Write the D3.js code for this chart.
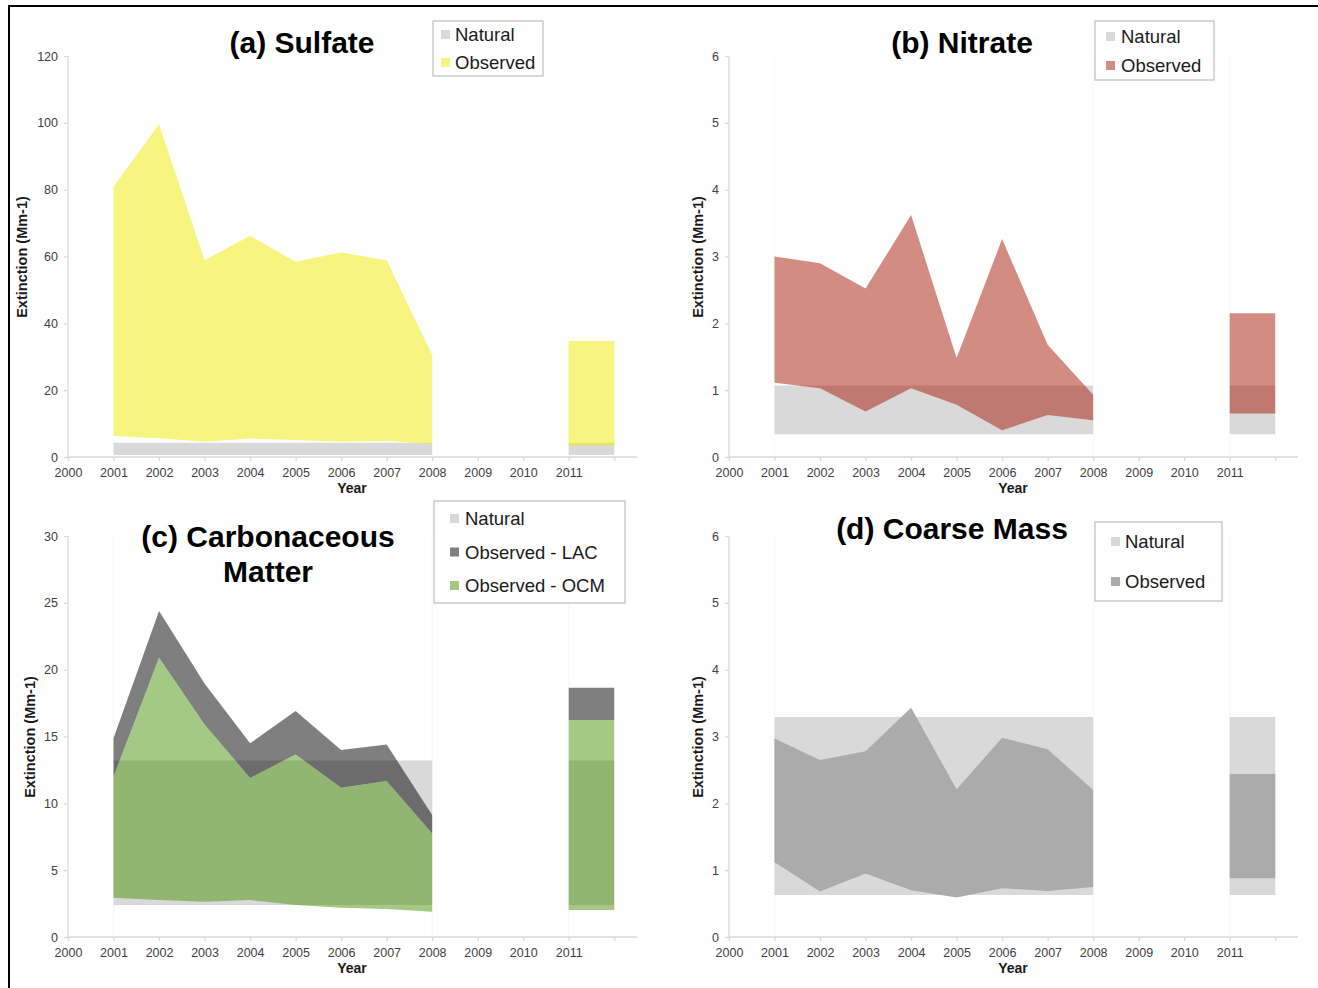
<!DOCTYPE html>
<html><head><meta charset="utf-8">
<script src="https://cdn.jsdelivr.net/npm/d3@7"></script>
<style>
html,body{margin:0;padding:0;background:#fff;}
svg{display:block;font-family:"Liberation Sans",Arial,Helvetica,sans-serif;}
</style></head>
<body>
<svg id="chart" width="1318" height="988"></svg>
<script>
// ---------- data ----------
const years = [2001, 2002, 2003, 2004, 2005, 2006, 2007, 2008];
const lateYears = [2011, 2012];           // the 2011 value spans 2011 -> 2012
const xTicks = [2000, 2001, 2002, 2003, 2004, 2005, 2006, 2007, 2008, 2009, 2010, 2011, 2012];
const xLabelled = [2000, 2001, 2002, 2003, 2004, 2005, 2006, 2007, 2008, 2009, 2010, 2011];

// (a) Sulfate
const sulfateTicks = [0, 20, 40, 60, 80, 100, 120];
const sulfateNatural = [0.6, 4.3];
const sulfateObsLow  = [6.3, 5.6, 4.6, 5.5, 5.1, 4.6, 4.9, 3.8];
const sulfateObsHigh = [80.9, 99.6, 58.9, 66.2, 58.4, 61.2, 58.9, 30.5];
const sulfate2011 = [3.4, 34.7];

// (b) Nitrate
const nitrateTicks = [0, 1, 2, 3, 4, 5, 6];
const nitrateNatural = [0.34, 1.07];
const nitrateObsLow  = [1.11, 1.03, 0.68, 1.03, 0.78, 0.40, 0.63, 0.55];
const nitrateObsHigh = [3.00, 2.90, 2.52, 3.62, 1.48, 3.26, 1.68, 0.93];
const nitrate2011 = [0.65, 2.15];

// (c) Carbonaceous Matter
const carbTicks = [0, 5, 10, 15, 20, 25, 30];
const carbNatural = [2.39, 13.2];
const carbObsLow = [2.94, 2.77, 2.64, 2.77, 2.39, 2.19, 2.09, 1.89];
const carbOCMTop = [11.99, 20.9, 15.9, 11.9, 13.66, 11.17, 11.67, 7.75];
const carbLACTop = [14.86, 24.38, 18.97, 14.49, 16.9, 13.99, 14.41, 9.12];
const carb2011 = [2.02, 16.23, 18.65];   // low, OCM top, LAC top

// (d) Coarse Mass
const coarseTicks = [0, 1, 2, 3, 4, 5, 6];
const coarseNatural = [0.63, 3.29];
const coarseObsLow  = [1.12, 0.68, 0.95, 0.70, 0.59, 0.73, 0.69, 0.75];
const coarseObsHigh = [2.97, 2.65, 2.78, 3.43, 2.21, 2.98, 2.81, 2.20];
const coarse2011 = [0.88, 2.44];

// ---------- drawing ----------
const svg = d3.select("#chart");

// frame (top & left visible)
svg.append("rect").attr("x", 9).attr("y", 6).attr("width", 1340).attr("height", 1020)
  .attr("fill", "none").attr("stroke", "#000").attr("stroke-width", 2);

const NAT = "#d9d9d9";
const tickColor = "#404040";

function bands(lowArr, highArr, late) {
  const s1 = years.map((yr, i) => ({x: yr, lo: lowArr[i], hi: highArr[i]}));
  const s2 = lateYears.map(yr => ({x: yr, lo: late[0], hi: late[1]}));
  return [s1, s2];
}

function panel(cfg) {
  const g = svg.append("g");
  const x = d3.scaleLinear().domain([2000, 2012.5]).range([cfg.left, cfg.left + 569]);
  const y = d3.scaleLinear().domain([0, cfg.ymax]).range([cfg.bottom, cfg.bottom - 401]);

  // faint series edge lines
  [2001, 2008, 2011].forEach(v => {
    g.append("line").attr("x1", x(v)).attr("x2", x(v))
      .attr("y1", y(cfg.ymax)).attr("y2", y(0))
      .attr("stroke", cfg.faint).attr("stroke-width", 1);
  });

  // axes
  const yAxis = d3.axisLeft(y).tickValues(cfg.yTicks).tickSize(4).tickPadding(6).tickFormat(d3.format("d"));
  const ya = g.append("g").attr("transform", `translate(${cfg.left},0)`).call(yAxis);
  const xAxis = d3.axisBottom(x).tickValues(xTicks).tickSize(4).tickPadding(7)
    .tickFormat(d => xLabelled.includes(d) ? String(d) : "");
  const xa = g.append("g").attr("transform", `translate(0,${cfg.bottom})`).call(xAxis);
  [ya, xa].forEach(a => {
    a.select(".domain").attr("stroke", "#d9d9d9").attr("stroke-width", 1.3);
    a.selectAll(".tick line").attr("stroke", "#d9d9d9").attr("stroke-width", 1.3);
    a.selectAll(".tick text").attr("fill", tickColor).attr("font-size", 12.5)
      .attr("font-family", "Liberation Sans, Arial, sans-serif");
  });
  ya.select(".domain").attr("d", `M0,${y(cfg.ymax)}V${y(0)}`);
  xa.select(".domain").attr("d", `M${x(2000)},0H${x(2012.5)}`);

  const area = d3.area().x(d => x(d.x)).y0(d => y(d.lo)).y1(d => y(d.hi));

  // natural band
  const nat = cfg.natural;
  [[2001, 2008], [2011, 2012]].forEach(([a, b]) => {
    g.append("path").attr("d", area([{x: a, lo: nat[0], hi: nat[1]}, {x: b, lo: nat[0], hi: nat[1]}]))
      .attr("fill", NAT);
  });

  cfg.layers.forEach(L => {
    L.segs.forEach(seg => {
      g.append("path").attr("d", area(seg)).attr("fill", L.color).attr("fill-opacity", L.opacity);
    });
  });

  // titles
  cfg.title.forEach((t, i) => {
    g.append("text").attr("x", cfg.titleX).attr("y", cfg.titleY + i * 35)
      .attr("text-anchor", "middle").attr("font-size", 30).attr("font-weight", "bold")
      .attr("fill", "#000").text(t);
  });

  // axis titles
  g.append("text").attr("x", cfg.left + 284).attr("y", cfg.bottom + 36)
    .attr("text-anchor", "middle").attr("font-size", 14).attr("font-weight", "bold")
    .attr("fill", "#1a1a1a").text("Year");
  g.append("text").attr("transform", `translate(${cfg.ylabX},${cfg.bottom - 200}) rotate(-90)`)
    .attr("text-anchor", "middle").attr("font-size", 14.5).attr("font-weight", "bold")
    .attr("fill", "#1a1a1a").text("Extinction (Mm-1)");

  // legend
  const lg = cfg.legend;
  g.append("rect").attr("x", lg.x).attr("y", lg.y).attr("width", lg.w).attr("height", lg.h)
    .attr("fill", "#fff").attr("stroke", "#bfbfbf").attr("stroke-width", 1.2);
  lg.items.forEach((it, i) => {
    const by = lg.firstBase + i * lg.step;
    g.append("rect").attr("x", lg.x + lg.sq).attr("y", by - 11).attr("width", 9).attr("height", 9)
      .attr("fill", it.color);
    g.append("text").attr("x", lg.x + lg.tx).attr("y", by).attr("font-size", 18.5)
      .attr("fill", "#1a1a1a").text(it.label);
  });
}

// (a)
panel({
  left: 68, bottom: 457, ymax: 120, yTicks: sulfateTicks, natural: sulfateNatural,
  faint: "#fefef0",
  layers: [{segs: bands(sulfateObsLow, sulfateObsHigh, sulfate2011), color: "rgb(240,235,0)", opacity: 0.5}],
  title: ["(a) Sulfate"], titleX: 302, titleY: 53, ylabX: 27,
  legend: {x: 433, y: 21, w: 110, h: 55, firstBase: 41, step: 28, sq: 8, tx: 22,
    items: [{label: "Natural", color: NAT}, {label: "Observed", color: "#f7f580"}]}
});

// (b)
panel({
  left: 729, bottom: 457, ymax: 6, yTicks: nitrateTicks, natural: nitrateNatural,
  faint: "#f9f9f9",
  layers: [{segs: bands(nitrateObsLow, nitrateObsHigh, nitrate2011), color: "rgb(167,25,5)", opacity: 0.5}],
  title: ["(b) Nitrate"], titleX: 962, titleY: 53, ylabX: 703,
  legend: {x: 1095, y: 21, w: 119, h: 59, firstBase: 43, step: 29, sq: 11, tx: 26,
    items: [{label: "Natural", color: NAT}, {label: "Observed", color: "#d38c82"}]}
});

// (c)
const carbOCM = [
  years.map((yr, i) => ({x: yr, lo: carbObsLow[i], hi: carbOCMTop[i]})),
  lateYears.map(yr => ({x: yr, lo: carb2011[0], hi: carb2011[1]}))
];
const carbLAC = [
  years.map((yr, i) => ({x: yr, lo: carbOCMTop[i], hi: carbLACTop[i]})),
  lateYears.map(yr => ({x: yr, lo: carb2011[1], hi: carb2011[2]}))
];
panel({
  left: 68, bottom: 937, ymax: 30, yTicks: carbTicks, natural: carbNatural,
  faint: "#f7f7f7",
  layers: [
    {segs: carbLAC, color: "#000", opacity: 0.5},
    {segs: carbOCM, color: "rgb(71,147,11)", opacity: 0.5}
  ],
  title: ["(c) Carbonaceous", "Matter"], titleX: 268, titleY: 547, ylabX: 35,
  legend: {x: 434, y: 501, w: 191, h: 102, firstBase: 525, step: 33.5, sq: 16, tx: 31,
    items: [{label: "Natural", color: NAT}, {label: "Observed - LAC", color: "#808080"},
            {label: "Observed - OCM", color: "#a3c985"}]}
});

// (d)
panel({
  left: 729, bottom: 937, ymax: 6, yTicks: coarseTicks, natural: coarseNatural,
  faint: "#f7f7f7",
  layers: [{segs: bands(coarseObsLow, coarseObsHigh, coarse2011), color: "#ababab", opacity: 1}],
  title: ["(d) Coarse Mass"], titleX: 952, titleY: 539, ylabX: 703,
  legend: {x: 1095, y: 522, w: 127, h: 79, firstBase: 548, step: 40, sq: 16, tx: 30,
    items: [{label: "Natural", color: NAT}, {label: "Observed", color: "#ababab"}]}
});
</script>
</body></html>
